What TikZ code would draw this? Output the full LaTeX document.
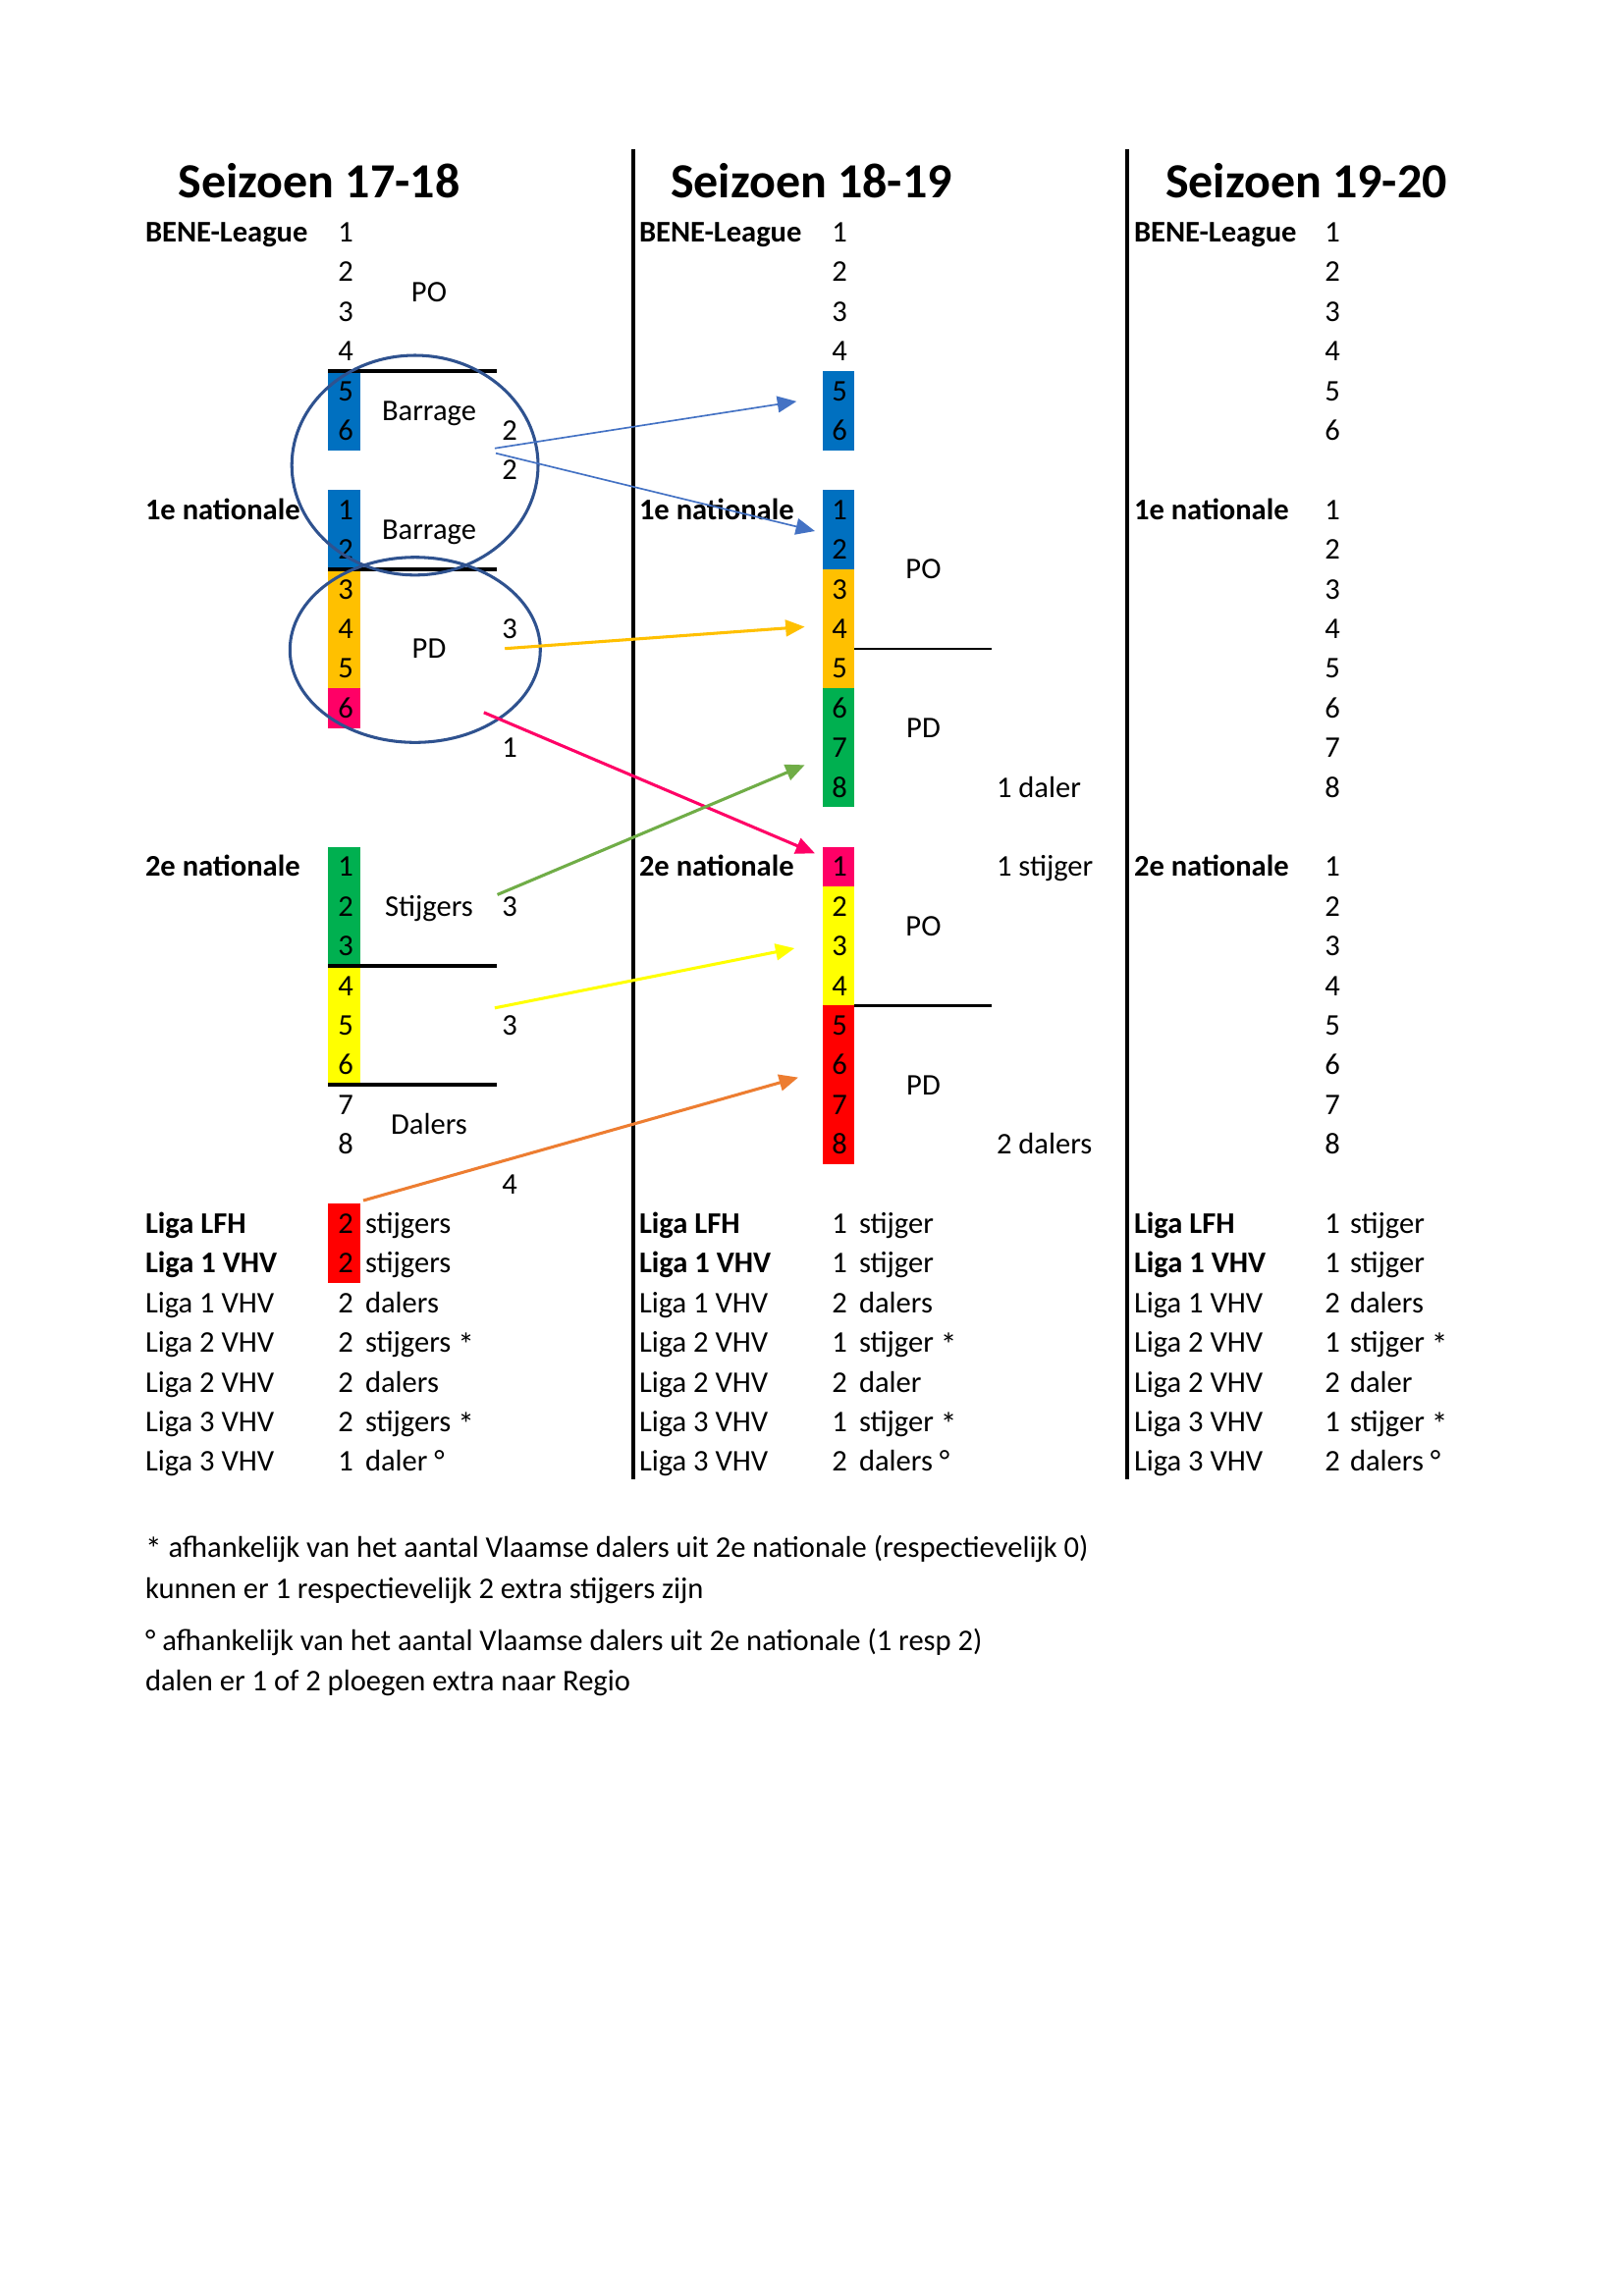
\documentclass[tikz,border=0pt]{standalone}
\usepackage{fontspec}
\setmainfont{Carlito}
\usetikzlibrary{arrows.meta}
\definecolor{barblue}{HTML}{0070C0}
\definecolor{barorange}{HTML}{FFC000}
\definecolor{barpink}{HTML}{FF0066}
\definecolor{bargreen}{HTML}{00B050}
\definecolor{baryellow}{HTML}{FFFF00}
\definecolor{barred}{HTML}{FF0000}
\definecolor{ellblue}{HTML}{2F528F}
\definecolor{arrblue}{HTML}{4472C4}
\definecolor{arrgreen}{HTML}{70AD47}
\definecolor{arrorange}{HTML}{ED7D31}
\newcommand\rowbase[1]{(246.4+40.4*(#1))}
\newcommand\rowtop[1]{(216.4+40.4*(#1))}
\newcommand\midbase[1]{(226.2+40.4*(#1))}
\newcommand\astx{\raisebox{-0.25ex}{\large *}}
\begin{document}
\begin{tikzpicture}[x=0.36pt,y=-0.36pt,
  basefont/.style={font=\fontsize{11pt}{13pt}\selectfont},
  lbl/.style={inner sep=0pt,outer sep=0pt,anchor=base west,basefont},
  blbl/.style={inner sep=0pt,outer sep=0pt,anchor=base west,font=\fontsize{11pt}{13pt}\selectfont\bfseries},
  num/.style={inner sep=0pt,outer sep=0pt,anchor=base,basefont},
  ttl/.style={inner sep=0pt,outer sep=0pt,anchor=base,font=\fontsize{18pt}{22pt}\selectfont\bfseries},
  sepline/.style={line width=1.4pt,black},
  thinsep/.style={line width=0.8pt,black},
  vline/.style={line width=1.4pt,black},
  ring/.style={draw=ellblue,line width=1.1pt},
  thinarrow/.style={line width=0.6pt,-{Triangle[length=7pt,width=6pt]}},
  thickarrow/.style={line width=1.1pt,-{Triangle[length=7pt,width=6pt]}}]
\useasboundingbox (0,0) rectangle (1653,2339);
\fill[white] (0,0) rectangle (1653,2339);

% ---------- colour bars, column 1 ----------
\fill[barblue]   (334,{\rowtop{4}})  rectangle (367,{\rowtop{6}});
\fill[barblue]   (334,{\rowtop{7}})  rectangle (367,{\rowtop{9}});
\fill[barorange] (334,{\rowtop{9}})  rectangle (367,{\rowtop{12}});
\fill[barpink]   (334,{\rowtop{12}}) rectangle (367,{\rowtop{13}});
\fill[bargreen]  (334,{\rowtop{16}}) rectangle (367,{\rowtop{19}});
\fill[baryellow] (334,{\rowtop{19}}) rectangle (367,{\rowtop{22}});
\fill[barred]    (334,{\rowtop{25}}) rectangle (367,{\rowtop{27}});
% ---------- colour bars, column 2 ----------
\fill[barblue]   (838,{\rowtop{4}})  rectangle (870,{\rowtop{6}});
\fill[barblue]   (838,{\rowtop{7}})  rectangle (870,{\rowtop{9}});
\fill[barorange] (838,{\rowtop{9}})  rectangle (870,{\rowtop{12}});
\fill[bargreen]  (838,{\rowtop{12}}) rectangle (870,{\rowtop{15}});
\fill[barpink]   (838,{\rowtop{16}}) rectangle (870,{\rowtop{17}});
\fill[baryellow] (838,{\rowtop{17}}) rectangle (870,{\rowtop{20}});
\fill[barred]    (838,{\rowtop{20}}) rectangle (870,{\rowtop{24}});

% ---------- separator lines ----------
\foreach \k in {4,9,19,22} {\draw[sepline] (334,{\rowtop{\k}}) -- (506,{\rowtop{\k}});}
\foreach \k in {11,20} {\draw[thinsep] (870,{\rowtop{\k}}) -- (1010,{\rowtop{\k}});}
\draw[vline] (645,151.5) -- (645,1507);
\draw[vline] (1148,151.5) -- (1148,1507);

% ---------- titles ----------
\node[ttl] (t1) at (325,201) {Seizoen 17-18};
\node[ttl] (t2) at (826.5,201) {Seizoen 18-19};
\node[ttl] (t3) at (1330.5,201) {Seizoen 19-20};

% ---------- division labels and numbers ----------
\foreach \L/\c/\nx in {148/a/352,651/b/855,1155/c/1357} {
  \node[blbl] (\c bene) at (\L,{\rowbase{0}}) {BENE-League};
  \node[blbl] (\c first) at (\L,{\rowbase{7}}) {1e nationale};
  \node[blbl] (\c second) at (\L,{\rowbase{16}}) {2e nationale};
  \node[blbl] (\c lfh) at (\L,{\rowbase{25}}) {Liga LFH};
  \node[blbl] (\c vhv) at (\L,{\rowbase{26}}) {Liga 1 VHV};
  \foreach \t [count=\i from 27] in {Liga 1 VHV,Liga 2 VHV,Liga 2 VHV,Liga 3 VHV,Liga 3 VHV}
    {\node[lbl] (\c liga\i) at (\L,{\rowbase{\i}}) {\t};}
  \foreach \n in {1,...,6} {\node[num] (\c B\n) at (\nx,{\rowbase{\n-1}}) {\n};}
  \foreach \n in {1,...,8} {\node[num] (\c S\n) at (\nx,{\rowbase{\n+15}}) {\n};}
}
\foreach \n in {1,...,6} {\node[num] (aF\n) at (352,{\rowbase{\n+6}}) {\n};}
\foreach \n in {1,...,8} {\node[num] (bF\n) at (855,{\rowbase{\n+6}}) {\n};}
\foreach \n in {1,...,8} {\node[num] (cF\n) at (1357,{\rowbase{\n+6}}) {\n};}

% ---------- Liga results ----------
\foreach \n/\t [count=\i from 25] in {2/stijgers,2/stijgers,2/dalers,2/stijgers \astx,2/dalers,2/stijgers \astx,1/daler °}
  {\node[num] (aLn\i) at (352,{\rowbase{\i}}) {\n};
   \node[lbl] (aLt\i) at (372,{\rowbase{\i}}) {\t};}
\foreach \n/\t [count=\i from 25] in {1/stijger,1/stijger,2/dalers,1/stijger \astx,2/daler,1/stijger \astx,2/dalers °}
  {\node[num] (bLn\i) at (855,{\rowbase{\i}}) {\n};
   \node[lbl] (bLt\i) at (875,{\rowbase{\i}}) {\t};
   \node[num] (cLn\i) at (1357,{\rowbase{\i}}) {\n};
   \node[lbl] (cLt\i) at (1375,{\rowbase{\i}}) {\t};}

% ---------- column 1 annotations ----------
\node[num] (aPO) at (437,{\midbase{2}}) {PO};
\node[num] (aBar1) at (437,{\midbase{5}}) {Barrage};
\node[num] (aBar2) at (437,{\midbase{8}}) {Barrage};
\node[num] (aPD) at (437,{\midbase{11}}) {PD};
\node[num] (aStij) at (437,{\rowbase{17}}) {Stijgers};
\node[num] (aDal) at (437,{\midbase{23}}) {Dalers};
\node[num] (aR1) at (519,{\rowbase{5}}) {2};
\node[num] (aR2) at (519,{\rowbase{6}}) {2};
\node[num] (aR3) at (519,{\rowbase{10}}) {3};
\node[num] (aR4) at (519,{\rowbase{13}}) {1};
\node[num] (aR5) at (519,{\rowbase{17}}) {3};
\node[num] (aR6) at (519,{\rowbase{20}}) {3};
\node[num] (aR7) at (519,{\rowbase{24}}) {4};

% ---------- column 2 annotations ----------
\node[num] (bPO1) at (940.5,{\midbase{9}}) {PO};
\node[num] (bPD1) at (940.5,{\midbase{13}}) {PD};
\node[num] (bPO2) at (940.5,{\midbase{18}}) {PO};
\node[num] (bPD2) at (940.5,{\midbase{22}}) {PD};
\node[lbl] (bDal1) at (1015,{\rowbase{14}}) {1 daler};
\node[lbl] (bStij) at (1015,{\rowbase{16}}) {1 stijger};
\node[lbl] (bDal2) at (1015,{\rowbase{23}}) {2 dalers};

% ---------- ellipses ----------
\draw[ring] (422.6,473.9) ellipse [x radius=125.4, y radius=111.9];
\draw[ring] (422.8,662) ellipse [x radius=127.5, y radius=94.3];

% ---------- arrows ----------
\coordinate (b1s) at (503.9,456.7);  \coordinate (b1e) at (811.2,408.9);
\coordinate (b2s) at (505,461.7);    \coordinate (b2e) at (830,541);
\coordinate (os)  at (514.2,660.7);  \coordinate (oe)  at (819.6,638.5);
\coordinate (ps)  at (492.8,725.8);  \coordinate (pe)  at (830,869.3);
\coordinate (gs)  at (506.6,911.4);  \coordinate (ge)  at (819.6,779.3);
\coordinate (ys)  at (503.9,1026.8); \coordinate (ye)  at (809.3,966);
\coordinate (rs)  at (370,1223);     \coordinate (re)  at (813,1097.6);
\draw[thinarrow,arrblue] (b1s) -- (b1e);
\draw[thinarrow,arrblue] (b2s) -- (b2e);
\draw[thickarrow,barorange] (os) -- (oe);
\draw[thickarrow,barpink] (ps) -- (pe);
\draw[thickarrow,arrgreen] (gs) -- (ge);
\draw[thickarrow,baryellow] (ys) -- (ye);
\draw[thickarrow,arrorange] (rs) -- (re);

% ---------- footnotes ----------
\node[lbl] (f1) at (148,1586) {\astx{} afhankelijk van het aantal Vlaamse dalers uit 2e nationale (respectievelijk 0)};
\node[lbl] (f2) at (148,1628) {kunnen er 1 respectievelijk 2 extra stijgers zijn};
\node[lbl] (f3) at (148,1681) {° afhankelijk van het aantal Vlaamse dalers uit 2e nationale (1 resp 2)};
\node[lbl] (f4) at (148,1722) {dalen er 1 of 2 ploegen extra naar Regio};
\end{tikzpicture}
\end{document}
